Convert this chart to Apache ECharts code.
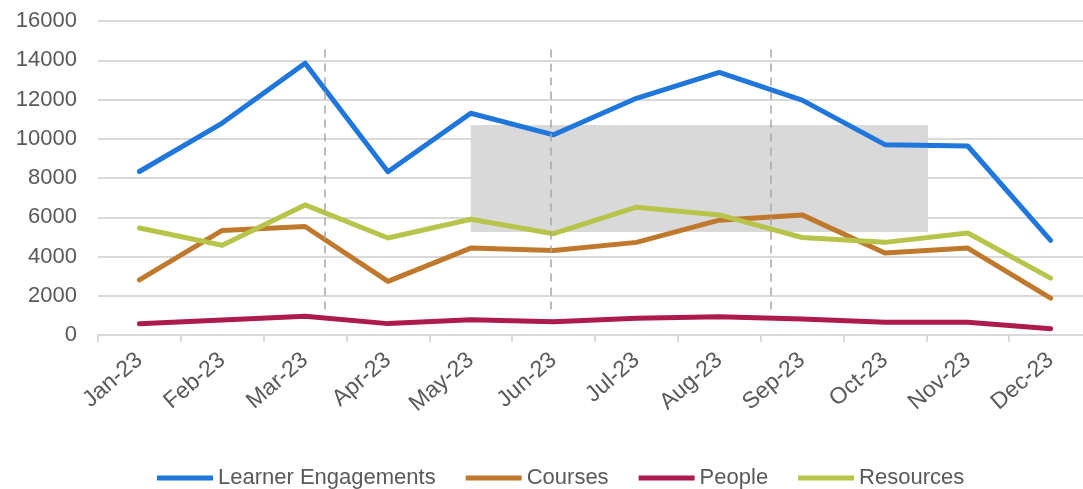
<!DOCTYPE html>
<html>
<head>
<meta charset="utf-8">
<script src="https://cdn.jsdelivr.net/npm/echarts@6/dist/echarts.min.js"></script>
<style>
  html, body { margin: 0; padding: 0; background: #ffffff; overflow: hidden; width: 1083px; height: 489px; }
  #chart { width: 1092px; height: 489px; }
</style>
</head>
<body>
<div id="chart"></div>
<script>
// ---- data ----
const categories = ['Jan-23','Feb-23','Mar-23','Apr-23','May-23','Jun-23','Jul-23','Aug-23','Sep-23','Oct-23','Nov-23','Dec-23'];
const learnerEngagements = [8330, 10800, 13850, 8320, 11300, 10200, 12060, 13380, 11970, 9700, 9630, 4820];
const courses = [2810, 5330, 5530, 2730, 4430, 4310, 4720, 5850, 6120, 4180, 4430, 1880];
const people = [570, 760, 950, 580, 780, 670, 850, 930, 820, 650, 650, 320];
const resources = [5450, 4570, 6630, 4940, 5900, 5160, 6510, 6120, 4970, 4720, 5200, 2900];
const yTicks = { min: 0, max: 16000, step: 2000 };
// annotations (in category-index / value units)
const shadedBand = { x0: 4.0, x1: 9.52, y0: 5250, y1: 10700 };
const dashedMarkers = [2.24, 4.96, 7.62];
const dashedRange = [1300, 14600];

const colors = ['#1f77db', '#c0792c', '#ad1a4d', '#b8c34a'];
const font = "'Liberation Sans', Arial, sans-serif";
const textColor = '#595959';
const gridColor = '#d9d9d9';

const chart = echarts.init(document.getElementById('chart'), null, { renderer: 'canvas' });

function lineSeries(name, data, color) {
  return {
    name: name, type: 'line', data: data, symbol: 'none', z: 3,
    itemStyle: { color: color },
    lineStyle: { color: color, width: 5, cap: 'round', join: 'round' },
    emphasis: { disabled: true }
  };
}

const option = {
  animation: false,
  textStyle: { fontFamily: font },
  grid: { left: 98, right: 0, top: 21, bottom: 154, containLabel: false },
  legend: {
    left: 152, top: 462,
    itemWidth: 56, itemHeight: 5, itemGap: 30,
    icon: 'rect',
    textStyle: { fontSize: 22, color: textColor, fontFamily: font },
    data: ['Learner Engagements', 'Courses', 'People', 'Resources']
  },
  xAxis: [
    {
      type: 'category', data: categories, boundaryGap: true,
      axisLine: { lineStyle: { color: gridColor, width: 2 } },
      axisTick: { show: true, length: 7, lineStyle: { color: gridColor, width: 2 } },
      axisLabel: { rotate: 41, fontSize: 23, color: textColor, margin: 22, interval: 0, fontFamily: font },
      splitLine: { show: false }
    },
    { type: 'value', min: -0.5, max: 11.5, show: false }
  ],
  yAxis: {
    type: 'value', min: yTicks.min, max: yTicks.max, interval: yTicks.step,
    axisLine: { show: false }, axisTick: { show: false },
    axisLabel: { fontSize: 22, color: textColor, margin: 21, fontFamily: font, formatter: v => String(v) },
    splitLine: { lineStyle: { color: gridColor, width: 2 } }
  },
  series: [
    {
      name: 'annotations', type: 'line', xAxisIndex: 1, data: [], z: 1, silent: true,
      markArea: {
        silent: true,
        itemStyle: { color: '#d9d9d9' },
        data: [[{ coord: [shadedBand.x0, shadedBand.y1] }, { coord: [shadedBand.x1, shadedBand.y0] }]]
      },
      markLine: {
        silent: true, symbol: ['none', 'none'], label: { show: false },
        lineStyle: { color: '#a6a6a6', width: 1.5, type: [8, 6] },
        data: dashedMarkers.map(x => [{ coord: [x, dashedRange[0]] }, { coord: [x, dashedRange[1]] }])
      }
    },
    lineSeries('Learner Engagements', learnerEngagements, colors[0]),
    lineSeries('Courses', courses, colors[1]),
    lineSeries('People', people, colors[2]),
    lineSeries('Resources', resources, colors[3])
  ]
};
chart.setOption(option);
</script>
</body>
</html>
